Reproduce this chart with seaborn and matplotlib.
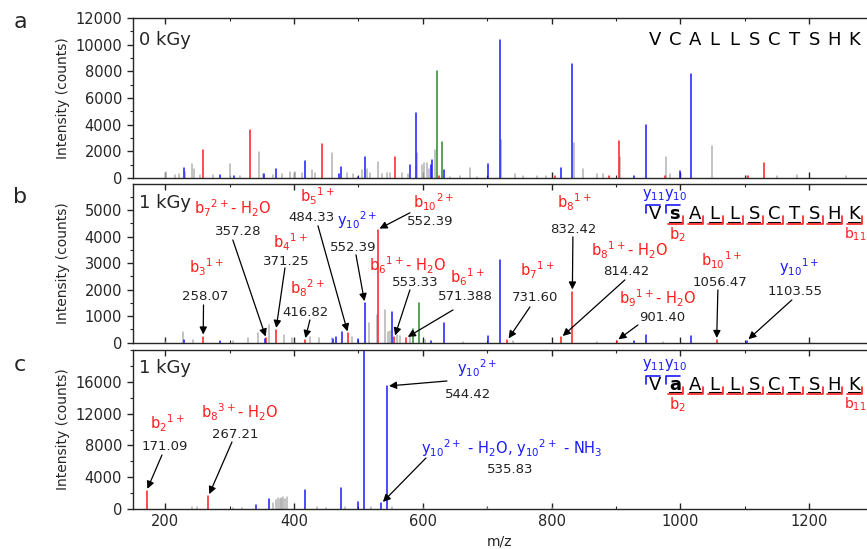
import numpy as np
import pandas as pd
import matplotlib.pyplot as plt
import seaborn as sns
from matplotlib.ticker import MultipleLocator

# ---------------- data (m/z, intensity) ----------------
# panel a : 0 kGy
a_red_mz = [259, 331, 444, 557, 625, 805, 889, 905.5, 976, 1105, 1129.5]
a_red_int = [2075, 3575, 2525, 1575, 150, 150, 150, 2800, 120, 150, 1100]
a_blue_mz = [229, 285, 307, 353, 372, 417.6, 470, 473.6, 500, 509.6, 580.8, 589.5, 613.5,
             615, 632.5, 701.6, 719.4, 815, 832.6, 928, 946, 999, 1017]
a_blue_int = [750, 250, 125, 325, 650, 1250, 300, 825, 100, 1575, 975, 4875, 975,
              1325, 575, 1025, 10375, 750, 8525, 150, 3950, 500, 7825]
a_green_mz = [621.5, 629.8]
a_green_int = [8000, 2700]
a_gray_mz = [200.7, 215, 222, 231, 241, 244.7, 254, 274.7, 300.6, 316, 346.2, 352.4, 367.9,
             380.9, 393.8, 401.6, 411.9, 428.4, 432.6, 458.5, 481.8, 492, 505, 513, 518,
             529.9, 537, 543.9, 549, 567.2, 577.5, 590.5, 598.3, 602, 606, 610, 619, 642,
             658, 673.3, 683.7, 721, 743, 756, 777, 792, 834.8, 849.2, 870, 880, 906.5,
             977.6, 984, 1048.6, 1103, 1149.5, 1180.6, 1258]
a_gray_int = [450, 200, 275, 450, 1075, 700, 200, 200, 1025, 150, 1950, 300, 250,
              300, 450, 450, 400, 625, 400, 1875, 350, 300, 600, 675, 350,
              1200, 300, 350, 400, 350, 300, 1900, 1000, 1100, 1150, 700, 2100, 100,
              120, 750, 100, 2825, 300, 150, 150, 150, 2625, 650, 300, 300, 1575,
              1575, 300, 2400, 150, 120, 200, 150]

# panel b : 1 kGy
b_red_mz = [259, 357, 372, 417, 484, 530, 556, 574, 731.6, 815, 832.4, 901.4, 1056.5]
b_red_int = [230, 160, 480, 100, 350, 4270, 200, 180, 100, 200, 1930, 80, 100]
b_blue_mz = [229, 285, 355, 460, 466, 474, 500, 510, 553, 613, 633.5, 701, 719.4, 928,
             946, 1017, 1103.5]
b_blue_int = [100, 80, 150, 150, 200, 420, 130, 1490, 1140, 80, 730, 250, 3130, 80,
              290, 265, 80]
b_green_mz = [585, 594]
b_green_int = [500, 1490]
b_gray_mz = [199, 227, 243, 305, 328, 344, 362, 384, 397, 425.5, 438.5, 459, 490, 516,
             529, 541, 546, 549, 560, 564, 580, 603, 663, 740, 870, 973]
b_gray_int = [40, 420, 100, 75, 165, 355, 670, 290, 165, 230, 165, 165, 230, 730,
              1050, 1240, 400, 450, 300, 250, 200, 100, 40, 60, 40, 40]

# panel c : 1 kGy
c_red_mz = [171.1, 267.2]
c_red_int = [2300, 1630]
c_blue_mz = [341, 360.6, 417.6, 473.6, 500, 508.7, 535.8, 544.4]
c_blue_int = [500, 1215, 2430, 2600, 840, 21000, 700, 15460]
c_gray_mz = [241, 249, 306, 320, 366.7, 372, 374.8, 378, 380, 382, 383.4, 386, 389.6,
             435, 450, 480, 520, 551.6, 600, 700, 800, 900, 1000, 1100, 1200]
c_gray_int = [290, 210, 170, 150, 710, 1100, 1340, 1200, 1425, 1300, 1470, 1215, 1550,
              290, 150, 200, 200, 200, 100, 80, 80, 60, 60, 60, 50]

# annotations: ion label, value text, colour, target peak m/z
b_labels = [r'$b_{7}{}^{2+}$- H$_2$O', r'$b_{4}{}^{1+}$', r'$b_{3}{}^{1+}$', r'$b_{8}{}^{2+}$',
            r'$b_{5}{}^{1+}$', r'$y_{10}{}^{2+}$', r'$b_{10}{}^{2+}$', r'$b_{6}{}^{1+}$- H$_2$O',
            r'$b_{6}{}^{1+}$', r'$b_{7}{}^{1+}$', r'$b_{8}{}^{1+}$', r'$b_{8}{}^{1+}$- H$_2$O',
            r'$b_{9}{}^{1+}$- H$_2$O', r'$b_{10}{}^{1+}$', r'$y_{10}{}^{1+}$']
b_values = ['357.28', '371.25', '258.07', '416.82', '484.33', '552.39', '552.39', '553.33',
            '571.388', '731.60', '832.42', '814.42', '901.40', '1056.47', '1103.55']
b_kinds = ['red'] * 5 + ['blue'] + ['red'] * 8 + ['blue']
b_targets = [357, 372, 259, 417, 484, 510, 530, 556, 574, 731.6, 832.4, 815, 901.4, 1056.5, 1103.5]

c_labels = [r'$b_{2}{}^{1+}$', r'$b_{8}{}^{3+}$- H$_2$O', r'$y_{10}{}^{2+}$',
            r'$y_{10}{}^{2+}$ - H$_2$O, $y_{10}{}^{2+}$ - NH$_3$']
c_values = ['171.09', '267.21', '544.42', '535.83']
c_kinds = ['red', 'red', 'blue', 'blue']
c_targets = [171.1, 267.2, 544.4, 535.8]

peptide_a = list('VCALLSCTSHK')
peptide_b = list('VsALLSCTSHK')
peptide_c = list('VaALLSCTSHK')

# ---------------- layout ----------------
# (label x, label y, value x, value y, arrow start x, arrow start y) in data units
b_layout = [(305, 5090, 313, 4185, 305, 3880), (394, 3806, 387.6, 3050, 386, 2824),
            (263.4, 2862, 261.8, 1727, 259.5, 1425), (420, 2068, 418.6, 1123, 424.8, 858),
            (435.7, 5507, 428, 4714, 437.3, 4411), (497.8, 4638, 491.6, 3580, 496.3, 3315),
            (617.4, 5281, 611, 4563, 580.1, 4903), (575.5, 2940, 587.9, 2257, 580.1, 1992),
            (668.6, 2484, 665.5, 1727, 646.9, 1236), (777.3, 2748, 774.2, 1690, 766.5, 1349),
            (834.8, 5281, 833.2, 4260, 833.2, 3995), (921.7, 3504, 915.5, 2672, 914, 2370),
            (965.2, 1690, 971.4, 934, 934.2, 669), (1064.6, 3126, 1061.5, 2257, 1058.4, 1992),
            (1184.2, 2862, 1177.9, 1917, 1173.3, 1614)]
c_layout = [(202.8, 10819, 199.7, 7800, 195, 6793), (314.6, 12203, 308.4, 9309, 303.7, 8429),
            (684.2, 17738, 670.2, 14341, 637.6, 16102), (738.5, 7674, 735.4, 4906, 605, 6416)]

colors = {'gray': '#b3b3b3', 'red': '#ff1c1c', 'blue': '#1a1aff', 'green': '#2a8a2a'}

sns.set_style('ticks')
plt.rcParams['font.family'] = ['DejaVu Sans']
plt.rcParams['mathtext.default'] = 'regular'


def peaks_frame(groups):
    rows = []
    pid = 0
    for kind, mzs, ints in groups:
        for m, h in zip(mzs, ints):
            rows.append((pid, kind, m, 0.0))
            rows.append((pid, kind, m, h))
            pid += 1
    return pd.DataFrame(rows, columns=['pid', 'kind', 'mz', 'intensity'])


def lookup(groups, mz):
    for kind, mzs, ints in groups:
        for m, h in zip(mzs, ints):
            if abs(m - mz) < 0.05 and kind != 'gray':
                return h
    return 0


def setup(ax, ymax, yticks, yminor, bottom_labels):
    ax.set_xlim(150, 1290)
    ax.set_ylim(0, ymax)
    ax.set_yticks(yticks)
    ax.yaxis.set_minor_locator(MultipleLocator(yminor))
    ax.xaxis.set_major_locator(MultipleLocator(200))
    ax.xaxis.set_minor_locator(MultipleLocator(100))
    ax.tick_params(axis='x', which='both', direction='in', top=True, bottom=True)
    ax.tick_params(axis='y', which='both', direction='out')
    ax.tick_params(which='major', length=4.5, width=1, labelsize=10.5)
    ax.tick_params(which='minor', length=2.5, width=0.8)
    ax.spines['right'].set_visible(False)
    for s in ['left', 'top', 'bottom']:
        ax.spines[s].set_linewidth(1.0)
    ax.set_ylabel('Intensity (counts)', fontsize=10)
    ax.yaxis.set_label_coords(-0.086, 0.5)
    if bottom_labels:
        ax.set_xlabel('m/z', fontsize=10)
    else:
        ax.set_xlabel('')
        ax.tick_params(axis='x', labelbottom=False)


def draw_peptide(ax, letters, yf, bold=None, ions=True):
    tr = ax.get_xaxis_transform()
    x0, dx = 960.6, 30.9
    px = 1 / 0.644
    py = 1 / 159.0
    for i, ch in enumerate(letters):
        cx = x0 + i * dx
        ax.text(cx, yf, ch, transform=tr, ha='center', va='center', fontsize=13,
                fontweight='bold' if i == bold else 'normal', color='black')
        if not ions:
            continue
        if i <= 1:
            ax.plot([cx - 8.5 * px, cx - 8.5 * px, cx + 5 * px],
                    [yf + 1 * py, yf + 9 * py, yf + 9 * py], transform=tr,
                    color=colors['blue'], lw=1.2, clip_on=False)
        if i >= 1:
            ax.plot([cx - 6 * px, cx + 6 * px], [yf - 7.5 * py, yf - 7.5 * py],
                    transform=tr, color='black', lw=0.8, clip_on=False)
            ax.plot([cx - 7 * px, cx + 8.5 * px, cx + 8.5 * px],
                    [yf - 9.5 * py, yf - 9.5 * py, yf - 2 * py], transform=tr,
                    color=colors['red'], lw=1.2, clip_on=False)
    if ions:
        ax.text(x0 - 1 * px, yf + 20 * py, r'$y_{11}$', transform=tr, ha='center',
                va='center', fontsize=10.5, color=colors['blue'])
        ax.text(x0 + dx + 1 * px, yf + 20 * py, r'$y_{10}$', transform=tr, ha='center',
                va='center', fontsize=10.5, color=colors['blue'])
        ax.text(x0 + dx + 3 * px, yf - 20 * py, r'$b_{2}$', transform=tr, ha='center',
                va='center', fontsize=10.5, color=colors['red'])
        ax.text(x0 + 10 * dx + 1 * px, yf - 20 * py, r'$b_{11}$', transform=tr, ha='center',
                va='center', fontsize=10, color=colors['red'])


def annotate(ax, groups, labels, values, kinds, targets, layout):
    for lab, val, kind, tgt, lay in zip(labels, values, kinds, targets, layout):
        lx, ly, vx, vy, sx, sy = lay
        ax.text(lx, ly, lab, ha='center', va='center', fontsize=10.5, color=colors[kind])
        ax.text(vx, vy, val, ha='center', va='center', fontsize=9.5, color='#222222')
        ax.annotate('', xy=(tgt, lookup(groups, tgt)), xytext=(sx, sy),
                    arrowprops=dict(arrowstyle='-|>', color='black', lw=0.9,
                                    mutation_scale=11, shrinkA=0, shrinkB=1.5))


def draw_panel(ax, groups):
    df = peaks_frame(groups)
    order = [k for k in ['gray', 'red', 'blue', 'green'] if k in df['kind'].unique()]
    sns.lineplot(data=df, x='mz', y='intensity', hue='kind', hue_order=order,
                 palette=colors, units='pid', estimator=None, sort=False,
                 legend=False, lw=1.1, ax=ax)


fig = plt.figure(figsize=(8.67, 5.49), dpi=100)
W, H = 867.0, 549.0
left = 133 / W
ax_a = fig.add_axes([left, 1 - 178 / H, 1 - left, 160 / H])
ax_b = fig.add_axes([left, 1 - 342.7 / H, 1 - left, 158.7 / H])
ax_c = fig.add_axes([left, 1 - 509 / H, 1 - left, 159 / H])

groups_a = [('gray', a_gray_mz, a_gray_int), ('red', a_red_mz, a_red_int),
            ('blue', a_blue_mz, a_blue_int), ('green', a_green_mz, a_green_int)]
groups_b = [('gray', b_gray_mz, b_gray_int), ('red', b_red_mz, b_red_int),
            ('blue', b_blue_mz, b_blue_int), ('green', b_green_mz, b_green_int)]
groups_c = [('gray', c_gray_mz, c_gray_int), ('red', c_red_mz, c_red_int),
            ('blue', c_blue_mz, c_blue_int)]

draw_panel(ax_a, groups_a)
draw_panel(ax_b, groups_b)
draw_panel(ax_c, groups_c)

setup(ax_a, 12000, range(0, 12001, 2000), 1000, False)
setup(ax_b, 5990, range(0, 5001, 1000), 500, False)
setup(ax_c, 20000, range(0, 16001, 4000), 2000, True)

ax_a.text(0.008, 0.8625, '0 kGy', transform=ax_a.transAxes, fontsize=13, va='center')
ax_b.text(0.008, 0.88, '1 kGy', transform=ax_b.transAxes, fontsize=13, va='center')
ax_c.text(0.008, 0.887, '1 kGy', transform=ax_c.transAxes, fontsize=13, va='center')

draw_peptide(ax_a, peptide_a, 0.8625, ions=False)
draw_peptide(ax_b, peptide_b, 0.808, bold=1)
draw_peptide(ax_c, peptide_c, 0.783, bold=1)

annotate(ax_b, groups_b, b_labels, b_values, b_kinds, b_targets, b_layout)
annotate(ax_c, groups_c, c_labels, c_values, c_kinds, c_targets, c_layout)

for lab, y in [('a', 22), ('b', 197), ('c', 365)]:
    fig.text(20 / W, 1 - y / H, lab, fontsize=16, ha='center', va='center')

fig.savefig('out.png', dpi=100)
